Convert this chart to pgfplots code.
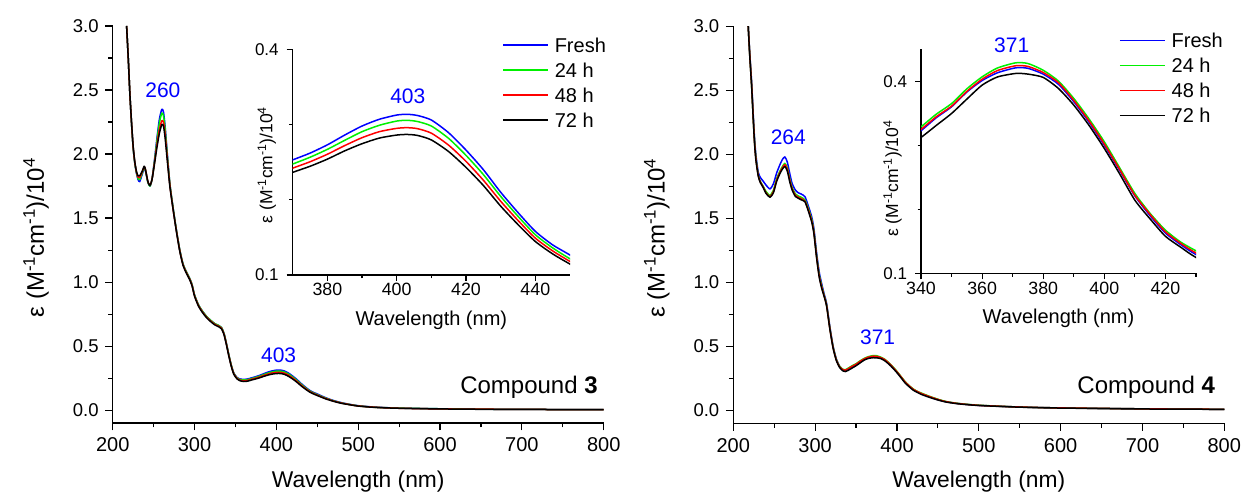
\documentclass[border=0pt]{standalone}
\usepackage{fontspec}
\setmainfont{Liberation Sans}
\usepackage{pgfplots}
\usepackage{pgfplotstable}
\pgfplotsset{compat=1.18}

\definecolor{cblue}{RGB}{0,0,255}
\definecolor{cgreen}{RGB}{0,240,0}
\definecolor{cred}{RGB}{255,0,0}

\newcommand{\fTick}{\fontsize{20pt}{24pt}\selectfont}
\newcommand{\fYTick}{\fontsize{18.5pt}{22pt}\selectfont}
\newcommand{\fLab}{\fontsize{22.8pt}{27pt}\selectfont}
\newcommand{\fYLab}{\fontsize{24pt}{28pt}\selectfont}
\newcommand{\fAnn}{\fontsize{21pt}{25pt}\selectfont}
\newcommand{\fLeg}{\fontsize{20pt}{24pt}\selectfont}
\newcommand{\fCmp}{\fontsize{24pt}{28pt}\selectfont}
\newcommand{\fInX}{\fontsize{17.8pt}{21pt}\selectfont}
\newcommand{\fInYT}{\fontsize{17pt}{20pt}\selectfont}
\newcommand{\fInLab}{\fontsize{20pt}{24pt}\selectfont}
\newcommand{\fInY}{\fontsize{17.5pt}{21pt}\selectfont}
\newcommand{\tx}[1]{\mbox{\fTick #1}}
\newcommand{\ty}[1]{\mbox{\fYTick #1}}
\newcommand{\tix}[1]{\mbox{\fInX #1}}
\newcommand{\tiy}[1]{\mbox{\fInYT #1}}

\tikzset{lab/.style={text=cblue, font=\fAnn, anchor=center}}

\pgfplotstableread{
wl f a b c
217 3.00 3.00 3.00 3.00
219 2.75 2.75 2.75 2.75
221 2.47 2.47 2.47 2.47
223 2.24 2.24 2.245 2.25
225 2.05 2.05 2.055 2.06
227 1.93 1.93 1.935 1.94
229 1.85 1.855 1.86 1.865
231 1.80 1.81 1.82 1.83
233 1.785 1.80 1.815 1.83
236 1.84 1.85 1.86 1.865
238.5 1.89 1.895 1.90 1.905
240 1.87 1.875 1.88 1.88
243 1.78 1.78 1.785 1.785
245.5 1.75 1.75 1.755 1.755
248 1.80 1.80 1.80 1.80
251 1.95 1.94 1.93 1.92
254 2.12 2.10 2.07 2.05
257 2.27 2.24 2.19 2.16
260 2.35 2.32 2.26 2.23
262 2.33 2.30 2.25 2.22
264 2.22 2.20 2.16 2.13
267 1.98 1.97 1.95 1.93
270 1.76 1.76 1.75 1.74
274 1.57 1.57 1.56 1.56
278 1.40 1.40 1.395 1.39
282 1.25 1.25 1.245 1.24
286 1.14 1.14 1.135 1.13
290 1.08 1.08 1.075 1.07
294 1.03 1.03 1.025 1.02
297 0.98 0.98 0.975 0.97
300 0.90 0.90 0.895 0.89
305 0.82 0.82 0.815 0.81
310 0.77 0.77 0.765 0.76
315 0.73 0.73 0.725 0.72
320 0.70 0.70 0.695 0.69
325 0.675 0.675 0.67 0.665
330 0.66 0.66 0.655 0.65
333 0.645 0.645 0.64 0.635
336 0.60 0.60 0.595 0.59
339 0.52 0.52 0.515 0.51
342 0.43 0.43 0.425 0.42
345 0.35 0.35 0.345 0.34
348 0.29 0.288 0.285 0.28
352 0.255 0.252 0.248 0.244
356 0.243 0.239 0.234 0.229
360 0.240 0.236 0.230 0.224
365 0.244 0.239 0.233 0.227
370 0.253 0.2475 0.242 0.2364
375 0.262 0.2565 0.2505 0.2445
380 0.273 0.267 0.2605 0.254
385 0.286 0.279 0.272 0.265
390 0.298 0.2905 0.2825 0.2745
395 0.307 0.299 0.2905 0.282
400 0.3126 0.3046 0.2949 0.286
403 0.3136 0.3056 0.2958 0.2868
406 0.312 0.304 0.2945 0.2855
410 0.306 0.298 0.2885 0.2795
415 0.289 0.2815 0.2725 0.264
420 0.266 0.259 0.251 0.243
425 0.240 0.2335 0.226 0.219
430 0.210 0.2045 0.198 0.1915
435 0.183 0.178 0.1725 0.167
440 0.158 0.1535 0.149 0.1445
445 0.140 0.136 0.132 0.128
450 0.1265 0.1215 0.118 0.1145
460 0.098 0.095 0.092 0.089
470 0.075 0.073 0.071 0.069
480 0.058 0.056 0.055 0.053
490 0.045 0.044 0.043 0.042
500 0.035 0.034 0.033 0.032
520 0.024 0.023 0.023 0.022
550 0.016 0.016 0.015 0.015
600 0.011 0.011 0.010 0.010
650 0.008 0.008 0.008 0.007
700 0.006 0.006 0.006 0.006
750 0.005 0.005 0.005 0.005
800 0.004 0.004 0.004 0.004
}\cmpA

\pgfplotstableread{
wl f a b c
218 3.03 3.03 3.03 3.03
220 2.80 2.79 2.79 2.78
222.4 2.56 2.54 2.54 2.53
224.4 2.30 2.28 2.28 2.27
226 2.12 2.10 2.09 2.08
227.7 1.99 1.97 1.96 1.95
230.5 1.86 1.84 1.835 1.83
233 1.82 1.79 1.785 1.78
236.6 1.79 1.75 1.745 1.74
240 1.76 1.71 1.70 1.695
244.8 1.73 1.68 1.67 1.665
249 1.77 1.72 1.71 1.70
253 1.855 1.81 1.80 1.79
257 1.92 1.87 1.86 1.85
260 1.96 1.905 1.895 1.885
263 1.98 1.93 1.92 1.905
266 1.94 1.895 1.885 1.87
269 1.85 1.81 1.80 1.785
272 1.77 1.74 1.73 1.72
276 1.72 1.69 1.68 1.67
279.4 1.70 1.675 1.665 1.657
283 1.69 1.665 1.655 1.645
287.5 1.67 1.645 1.635 1.63
291 1.61 1.59 1.58 1.57
295.7 1.515 1.495 1.485 1.475
298.5 1.42 1.40 1.39 1.38
301.8 1.23 1.21 1.20 1.19
305 1.08 1.06 1.05 1.04
308 0.99 0.975 0.965 0.955
311 0.91 0.90 0.895 0.89
314 0.836 0.825 0.82 0.815
318 0.653 0.645 0.64 0.635
322 0.50 0.495 0.49 0.485
326 0.40 0.397 0.393 0.388
330 0.345 0.345 0.341 0.335
334 0.318 0.321 0.318 0.309
337 0.313 0.318 0.315 0.304
340 0.3227 0.3287 0.3247 0.3122
345 0.343 0.3485 0.3445 0.331
350 0.360 0.365 0.361 0.3496
355 0.383 0.388 0.384 0.372
360 0.401 0.4067 0.403 0.3938
365 0.413 0.4205 0.4165 0.4065
371 0.4208 0.4286 0.424 0.412
375 0.420 0.4275 0.423 0.411
380 0.411 0.417 0.4135 0.4058
385 0.395 0.400 0.3975 0.3885
390 0.368 0.373 0.370 0.3626
395 0.336 0.341 0.338 0.331
400 0.300 0.3053 0.302 0.295
405 0.261 0.265 0.2625 0.2555
410 0.221 0.2248 0.222 0.2143
415 0.190 0.1936 0.192 0.185
420 0.163 0.1676 0.165 0.158
425 0.145 0.149 0.147 0.141
430 0.1295 0.1353 0.132 0.125
440 0.106 0.110 0.108 0.102
450 0.085 0.088 0.086 0.082
460 0.068 0.070 0.069 0.066
475 0.054 0.055 0.054 0.052
500 0.040 0.041 0.040 0.039
550 0.027 0.027 0.027 0.026
600 0.020 0.020 0.020 0.019
700 0.013 0.013 0.013 0.012
800 0.009 0.009 0.009 0.009
}\cmpB

\newcommand{\ylab}{ε (M\textsuperscript{-1}cm\textsuperscript{-1})/10\textsuperscript{4}}

\pgfplotsset{
  base/.style={
    scale only axis, axis x line*=bottom, axis y line*=left,
    axis line style={line width=1.3pt},
    tick align=outside,
    tick style={line width=1.2pt, black},
    clip mode=individual,
    every axis plot/.append style={line width=1.5pt, smooth, tension=0.4, line join=round},
  },
  mainax/.style={base,
    width=491pt, height=397pt,
    major tick length=7.5pt, minor tick length=4.5pt,
    xmin=200, xmax=800, ymin=-0.1, ymax=3,
    xtick={200,300,400,500,600,700,800},
    xticklabels={\tx{200},\tx{300},\tx{400},\tx{500},\tx{600},\tx{700},\tx{800}},
    minor x tick num=1,
    ytick={0,0.5,1,1.5,2,2.5,3},
    yticklabels={\ty{0.0},\ty{0.5},\ty{1.0},\ty{1.5},\ty{2.0},\ty{2.5},\ty{3.0}},
    minor y tick num=1,
    xticklabel style={yshift=-4pt},
    yticklabel style={xshift=-3pt},
    xlabel={\fLab Wavelength (nm)},
    xlabel style={at={(axis description cs:0.5,-0.148)}, anchor=center},
    ylabel={\fYLab\ylab},
    ylabel style={at={(axis description cs:-0.14,0.467)}, anchor=base},
  },
  insetax/.style={base,
    major tick length=6pt, minor tick length=3.5pt,
    ytick={0.1,0.4}, yticklabels={\tiy{0.1},\tiy{0.4}},
    minor ytick={0.2,0.3},
    xticklabel style={yshift=1pt},
    yticklabel style={xshift=-4.5pt},
    xlabel={\fInLab Wavelength (nm)},
    xlabel style={at={(axis description cs:0.5,-0.2)}, anchor=center},
    ylabel={\fInY\ylab},
    ylabel style={anchor=base},
    legend cell align=left,
    legend image code/.code={\draw[#1] (0pt,0pt) -- (45pt,0pt);},
    legend style={draw=none, fill=none, inner sep=0pt, font=\fLeg,
      nodes={inner sep=1pt, text height=14pt, text depth=0pt},
      row sep=9pt, /tikz/column sep=5pt, anchor=north west},
  },
}

\begin{document}
\begin{tikzpicture}
\path[use as bounding box] (0pt,0pt) rectangle (1242pt,494pt);

% ---------- Compound 3 main ----------
\begin{axis}[mainax, at={(112.7pt,71pt)}, anchor=south west]
\addplot[cblue] table[x=wl,y=f]{\cmpA};
\addplot[cgreen] table[x=wl,y=a]{\cmpA};
\addplot[cred] table[x=wl,y=b]{\cmpA};
\addplot[black] table[x=wl,y=c]{\cmpA};
\node[lab] at (axis cs:261.3,2.50) {260};
\node[lab] at (axis cs:402.8,0.43) {403};
\node[anchor=base east, font=\fCmp] at (rel axis cs:0.995,0.075) {Compound \textbf{3}};
\end{axis}

% ---------- Compound 3 inset ----------
\begin{axis}[insetax, at={(292.7pt,219pt)}, anchor=south west,
  width=277.3pt, height=225.7pt,
  xmin=370, xmax=450, ymin=0.1, ymax=0.4,
  xtick={380,400,420,440}, xticklabels={\tix{380},\tix{400},\tix{420},\tix{440}},
  minor xtick={390,410,430},
  ylabel style={at={(axis description cs:-0.073,0.487)}},
  legend style={at={(rel axis cs:0.755,1.0545)}}]
\addplot[cblue] table[x=wl,y=f]{\cmpA};
\addlegendentry{Fresh}
\addplot[cgreen] table[x=wl,y=a]{\cmpA};
\addlegendentry{24 h}
\addplot[cred] table[x=wl,y=b]{\cmpA};
\addlegendentry{48 h}
\addplot[black] table[x=wl,y=c]{\cmpA};
\addlegendentry{72 h}
\node[lab] at (axis cs:403.2,0.338) {403};
\end{axis}

% ---------- Compound 4 main ----------
\begin{axis}[mainax, at={(733.3pt,70.7pt)}, anchor=south west]
\addplot[cblue] table[x=wl,y=f]{\cmpB};
\addplot[cgreen] table[x=wl,y=a]{\cmpB};
\addplot[cred] table[x=wl,y=b]{\cmpB};
\addplot[black] table[x=wl,y=c]{\cmpB};
\node[lab] at (axis cs:267.2,2.13) {264};
\node[lab] at (axis cs:376.4,0.568) {371};
\node[anchor=base east, font=\fCmp] at (rel axis cs:0.988,0.076) {Compound \textbf{4}};
\end{axis}

% ---------- Compound 4 inset ----------
\begin{axis}[insetax, at={(921pt,220.5pt)}, anchor=south west,
  width=275pt, height=224.4pt,
  xmin=340, xmax=430, ymin=0.1, ymax=0.45,
  xtick={340,360,380,400,420}, xticklabels={\tix{340},\tix{360},\tix{380},\tix{400},\tix{420}},
  minor xtick={350,370,390,410,430},
  ylabel style={at={(axis description cs:-0.083,0.423)}},
  legend style={at={(rel axis cs:0.72,1.075)}}]
\addplot[cblue] table[x=wl,y=f]{\cmpB};
\addlegendentry{Fresh}
\addplot[cgreen] table[x=wl,y=a]{\cmpB};
\addlegendentry{24 h}
\addplot[cred] table[x=wl,y=b]{\cmpB};
\addlegendentry{48 h}
\addplot[black] table[x=wl,y=c]{\cmpB};
\addlegendentry{72 h}
\node[lab] at (axis cs:369.7,0.456) {371};
\end{axis}
\end{tikzpicture}
\end{document}
